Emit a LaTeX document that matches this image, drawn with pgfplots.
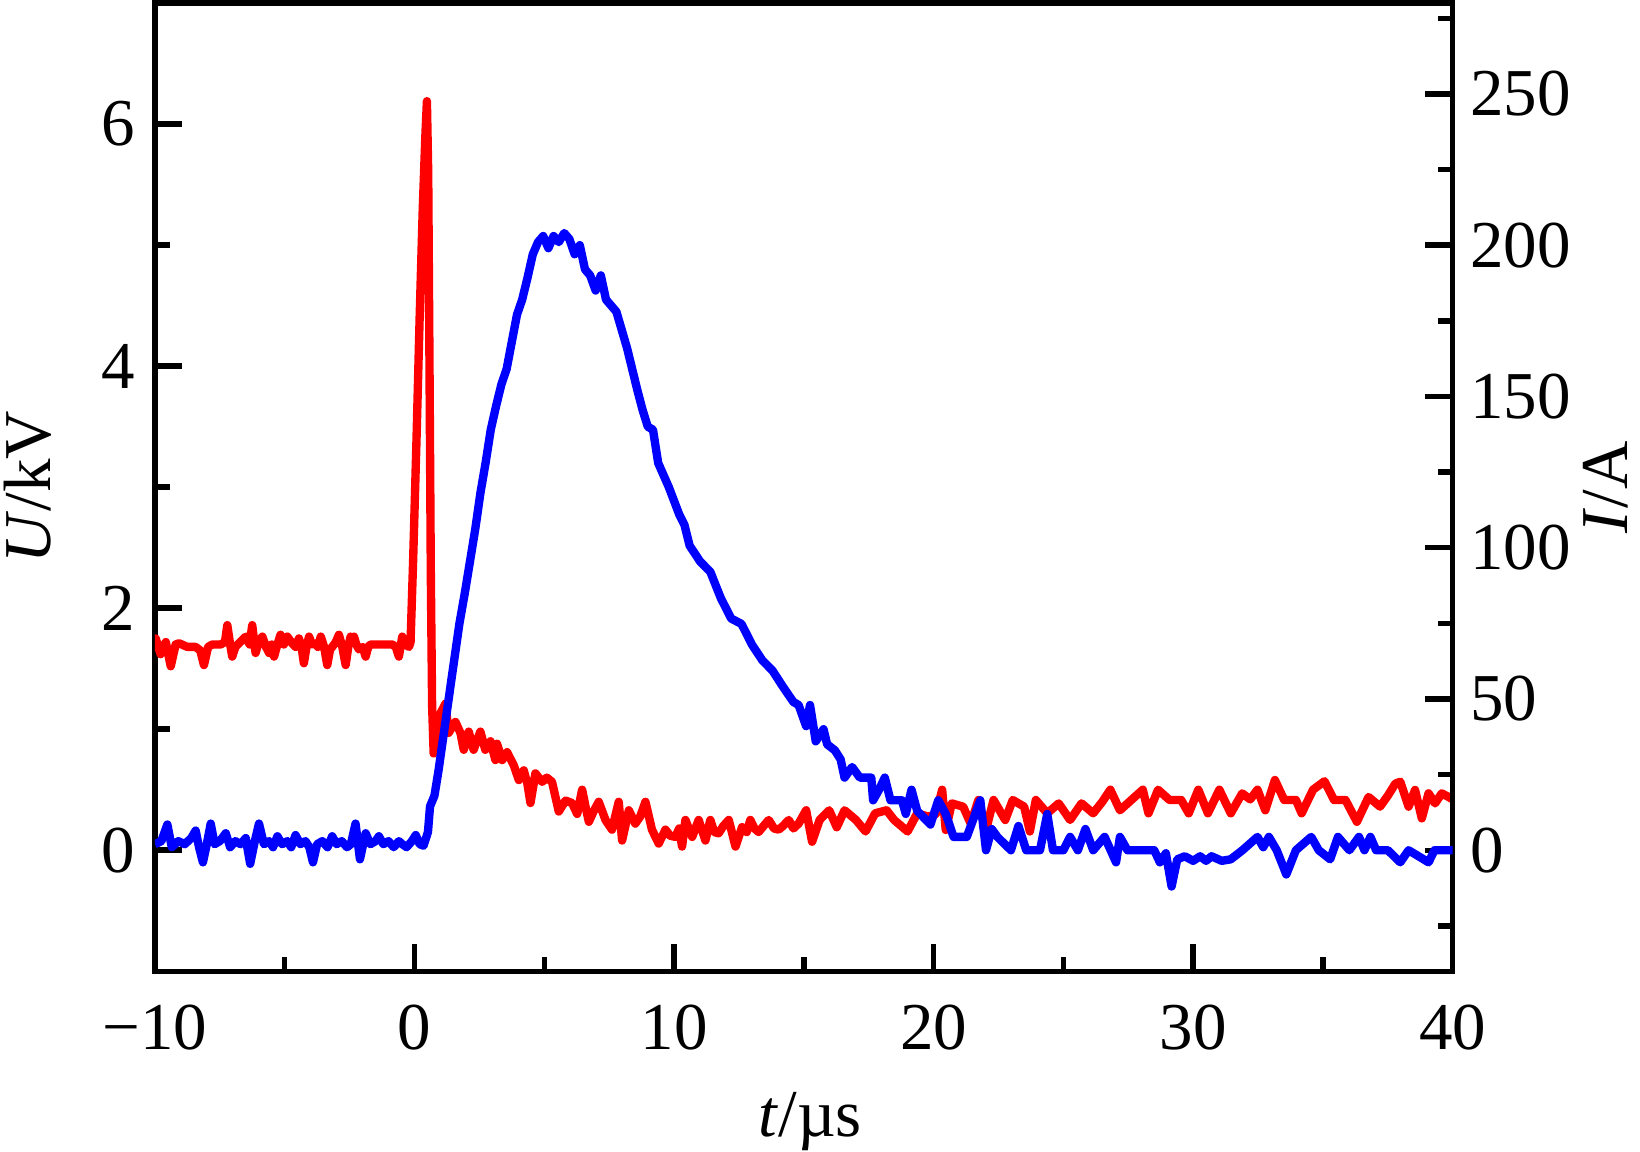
\documentclass[border=0pt]{standalone}
\usepackage{fontspec}
\setmainfont{Liberation Serif}
\usepackage{pgfplots}
\pgfplotsset{compat=1.18}
\begin{document}
\begin{tikzpicture}
\pgfplotsset{
  myaxis/.style={
    scale only axis, width=310pt, height=231.25pt,
    xmin=-10, xmax=40,
    axis line style={line width=1.3pt},
    every tick/.style={line width=1.3pt, black},
    major tick length=6.5pt, minor tick length=3.5pt,
    tick align=inside,
    /pgf/number format/assume math mode=true,
    tick label style={font=\fontsize{16}{19}\selectfont},
  }
}
\begin{axis}[myaxis, name=main,
  ymin=-1, ymax=7,
  xtick={-10,0,10,20,30,40}, xticklabels={−10,0,10,20,30,40},
  minor xtick={-5,5,15,25,35},
  ytick={0,2,4,6}, minor ytick={1,3,5},
  xtick pos=bottom, ytick pos=left,
  xticklabel style={yshift=-4.5pt},
  yticklabel style={xshift=-1.2pt},
  xlabel={\textit{t}/µs}, ylabel={\textit{U}/kV},
  every axis x label/.style={at={(rel axis cs:0.5,0)}, yshift=-39.5pt, xshift=1.5pt, anchor=base, inner sep=0pt, font=\fontsize{16}{19}\selectfont},
  every axis y label/.style={at={(rel axis cs:0,0.5)}, xshift=-30.25pt, rotate=90, anchor=center, inner sep=0pt, font=\fontsize{16}{19}\selectfont},
]
\addplot[red, line width=2pt, line join=round] coordinates {
(-10,1.70) (-9.97,1.75) (-9.78,1.62) (-9.58,1.72) (-9.39,1.52) (-9.2,1.70) (-9.07,1.71) (-8.75,1.68) (-8.43,1.68) (-8.25,1.65) (-8.11,1.53) (-7.95,1.68) (-7.79,1.70) (-7.47,1.70) (-7.3,1.72) (-7.21,1.86) (-7.1,1.70) (-7.02,1.60) (-6.9,1.68) (-6.76,1.71) (-6.5,1.765) (-6.35,1.70) (-6.25,1.86) (-6.12,1.63) (-6.0,1.72) (-5.86,1.765) (-5.72,1.68) (-5.60,1.63) (-5.5,1.70) (-5.41,1.60) (-5.28,1.70) (-5.16,1.78) (-5.03,1.70) (-4.90,1.765) (-4.71,1.71) (-4.58,1.68) (-4.45,1.75) (-4.35,1.68) (-4.26,1.545) (-4.16,1.68) (-4.06,1.765) (-3.95,1.70) (-3.81,1.71) (-3.72,1.68) (-3.61,1.765) (-3.48,1.68) (-3.36,1.53) (-3.25,1.66) (-3.17,1.68) (-3.03,1.72) (-2.91,1.78) (-2.78,1.68) (-2.65,1.53) (-2.55,1.68) (-2.46,1.765) (-2.4,1.72) (-2.33,1.765) (-2.24,1.70) (-2.14,1.66) (-2.0,1.68) (-1.88,1.60) (-1.78,1.68) (-1.69,1.70) (-0.85,1.70) (-0.72,1.68) (-0.60,1.60) (-0.47,1.765) (-0.35,1.70) (-0.21,1.68) (-0.15,1.72)
(-0.05,2.4) (0.08,3.4) (0.2,4.4) (0.32,5.3) (0.42,5.9) (0.48,6.19) (0.53,5.6) (0.58,4.0) (0.63,2.3) (0.68,1.2) (0.74,0.80) (0.80,0.82) (0.86,1.08) (0.92,0.95) (1.0,1.13) (1.19,1.21)
(1.32,0.97) (1.45,1.02) (1.58,1.06) (1.77,0.97) (1.9,0.83) (2.09,0.98) (2.28,0.83) (2.4,0.9) (2.54,0.98) (2.73,0.83) (2.93,0.90) (3.12,0.745) (3.18,0.88) (3.38,0.745) (3.57,0.81) (3.83,0.70) (4.02,0.58) (4.21,0.66) (4.35,0.55) (4.47,0.39) (4.66,0.635) (4.92,0.565) (5.1,0.6) (5.30,0.565) (5.56,0.32) (5.82,0.41) (6.07,0.39) (6.27,0.30) (6.46,0.50) (6.6,0.35) (6.72,0.235) (6.9,0.32) (7.10,0.40) (7.36,0.25) (7.61,0.17) (7.87,0.40) (8.0,0.08) (8.26,0.33) (8.51,0.22) (8.7,0.28) (8.90,0.40) (9.15,0.17) (9.41,0.055) (9.67,0.17) (9.85,0.12) (10.05,0.11) (10.2,0.18) (10.31,0.03) (10.44,0.25) (10.70,0.11) (10.95,0.25) (11.21,0.08) (11.40,0.25) (11.55,0.15) (11.72,0.14) (11.9,0.2) (12.11,0.25) (12.37,0.03) (12.62,0.19) (12.8,0.15) (12.94,0.25) (13.1,0.18) (13.26,0.15) (13.45,0.2) (13.65,0.25) (13.85,0.18) (14.03,0.17) (14.2,0.2) (14.42,0.25) (14.6,0.18)
(14.80,0.22) (15.09,0.33) (15.32,0.07) (15.61,0.25) (15.98,0.33) (16.27,0.19) (16.57,0.33) (17.01,0.25) (17.38,0.155) (17.75,0.305) (18.19,0.33) (18.48,0.25) (19.0,0.155) (19.37,0.305) (19.81,0.277) (20.1,0.3) (20.33,0.50) (20.47,0.167) (20.7,0.387) (21.14,0.36) (21.43,0.22) (21.73,0.415) (22.02,0.167) (22.31,0.415) (22.76,0.25) (23.05,0.415) (23.49,0.36) (23.71,0.155) (23.94,0.415) (24.38,0.305) (24.82,0.387) (25.26,0.25) (25.7,0.387) (26.15,0.305) (26.5,0.4) (26.81,0.50) (27.18,0.33) (27.62,0.415) (28.06,0.50) (28.28,0.305) (28.65,0.50) (29.09,0.415) (29.54,0.415) (29.83,0.305) (30.2,0.50) (30.57,0.305) (31.01,0.50) (31.45,0.305) (31.89,0.47) (32.2,0.42) (32.48,0.50) (32.78,0.33) (33.15,0.58) (33.51,0.415) (33.96,0.415) (34.18,0.305) (34.62,0.50) (35.06,0.57) (35.43,0.415) (35.87,0.415) (36.31,0.235) (36.76,0.44) (37.2,0.36) (37.5,0.45) (37.79,0.55)
(37.98,0.566) (38.30,0.36) (38.55,0.498) (38.81,0.263) (39.07,0.47) (39.32,0.387) (39.58,0.47) (39.84,0.44) (40,0.42)
};
\end{axis}
\begin{axis}[myaxis,
  ymin=-40, ymax=280,
  axis x line=none, axis y line*=right,
  ytick={0,50,100,150,200,250}, minor ytick={-25,25,75,125,175,225,275},
  yticklabel style={xshift=0.7pt},
  ylabel={\textit{I}/A},
  every axis y label/.style={at={(rel axis cs:1,0.5)}, xshift=36.5pt, rotate=90, anchor=center, inner sep=0pt, font=\fontsize{16}{19}\selectfont},
]
\addplot[blue, line width=2pt, line join=round] coordinates {
(-10,2) (-9.75,3) (-9.52,8.5) (-9.35,1) (-9.1,3) (-8.85,2) (-8.6,4) (-8.43,6.5) (-8.3,1) (-8.15,-4) (-8.0,2) (-7.85,8.8) (-7.7,2) (-7.5,3) (-7.27,5.6) (-7.1,1) (-6.9,3) (-6.7,2) (-6.5,4) (-6.33,-4.5) (-6.15,3) (-5.99,8.8) (-5.8,2) (-5.6,3) (-5.45,1) (-5.28,4.6) (-5.1,2) (-4.9,3) (-4.75,1) (-4.58,5) (-4.4,2) (-4.2,3) (-4.05,1) (-3.91,-4) (-3.75,2) (-3.55,3) (-3.35,1) (-3.17,4.6) (-3.0,2) (-2.8,3) (-2.6,1) (-2.45,2) (-2.27,8.8) (-2.1,-3) (-1.95,3) (-1.88,5.6) (-1.7,2) (-1.5,3) (-1.37,4.6) (-1.2,2) (-1.0,3) (-0.8,1) (-0.6,3) (-0.47,2) (-0.3,1) (-0.1,3) (0.05,5) (0.2,2) (0.35,1.5)
(0.52,6) (0.6,14.5) (0.77,18) (0.93,26.5) (1.13,38.6) (1.33,50.7) (1.53,62.8) (1.73,74.8) (1.94,85) (2.14,95.5) (2.34,106) (2.54,118) (2.74,128) (2.94,139) (3.15,147) (3.35,154) (3.55,159) (3.75,168) (3.95,177) (4.15,182) (4.35,189) (4.56,197) (4.76,201) (4.96,203) (5.16,199) (5.36,203) (5.56,201) (5.77,204) (5.97,202) (6.17,197) (6.37,200) (6.57,192) (6.77,190) (6.98,185) (7.18,190) (7.38,182) (7.78,178) (8.19,166) (8.39,159) (8.59,152) (8.79,145.5) (8.99,140) (9.19,139) (9.39,128) (9.8,120) (10.2,111) (10.4,107.6) (10.6,100.7) (11.0,95.5) (11.4,92) (11.8,83.4) (12.2,76.6) (12.6,74.8) (13.0,68) (13.4,62.8) (13.8,59.3) (14.2,54) (14.6,49)
(14.80,48) (15.09,41) (15.24,48) (15.46,36) (15.76,40) (15.9,35) (16.2,33) (16.42,30) (16.57,24) (16.86,27.5) (17.16,24) (17.6,24) (17.67,16.5) (17.9,20) (18.12,24) (18.34,16.5) (18.78,16.5) (18.93,12) (19.15,20) (19.37,13) (19.88,8.5) (20.18,16.5) (20.47,12) (20.77,4.4) (21.28,4.4) (21.8,16.5) (22.02,0) (22.24,7) (22.46,4.4) (22.98,0) (23.27,8) (23.57,0) (24.1,0) (24.38,12) (24.6,0) (25.0,0) (25.26,4.4) (25.56,0) (25.85,7) (26.15,0) (26.59,4.4) (27.03,-4) (27.18,4.4) (27.47,0) (28.5,0) (28.72,-4) (28.95,-1) (29.17,-12) (29.39,-3) (29.68,-2) (30.0,-3.5) (30.27,-2) (30.5,-3.5) (30.71,-2) (31.1,-3.5) (31.45,-3) (31.9,0) (32.48,4.4) (32.7,1) (32.92,4.4) (33.22,0) (33.59,-8) (33.96,0) (34.55,4.4) (34.84,0) (35.28,-3) (35.58,4.4) (36.02,0) (36.39,4.4) (36.6,0) (36.83,4.4) (37.05,0) (37.5,0) (37.98,-4) (38.3,0) (39.07,-4) (39.3,0) (40,0)
};
\end{axis}
\pgfresetboundingbox
\path ([xshift=-37pt, yshift=-43pt]main.south west) rectangle ([xshift=44.75pt, yshift=0.75pt]main.north east);
\end{tikzpicture}
\end{document}
